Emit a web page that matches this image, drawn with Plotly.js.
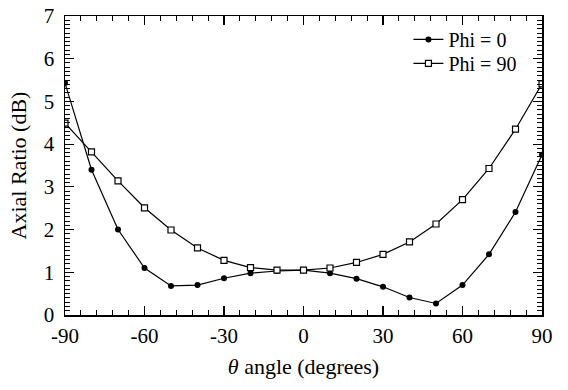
<!DOCTYPE html>
<html>
<head>
<meta charset="utf-8">
<script src="https://cdn.plot.ly/plotly-3.0.1.min.js"></script>
<style>html,body{margin:0;padding:0;background:#fff;}#chart{width:568px;height:390px;}</style>
</head>
<body>
<div id="chart"></div>
<script>
const theta = [-90,-80,-70,-60,-50,-40,-30,-20,-10,0,10,20,30,40,50,60,70,80,90];
const phi0 = [5.43,3.40,2.00,1.10,0.68,0.70,0.86,0.98,1.03,1.05,0.98,0.85,0.66,0.41,0.27,0.70,1.42,2.41,3.75];
const phi90 = [4.49,3.82,3.14,2.51,1.99,1.57,1.28,1.11,1.05,1.05,1.10,1.23,1.42,1.71,2.13,2.70,3.43,4.35,5.41];
const seriesNames = ['Phi = 0','Phi = 90'];
const xTicks = [-90,-60,-30,0,30,60,90];
const yTicks = [0,1,2,3,4,5,6,7];

const FAM = 'Liberation Serif, Times New Roman, Times, DejaVu Serif, serif';
const mkFont = (s) => ({family:FAM, size:s, color:'#000'});

const traces = [
  {x:theta, y:phi0, name:seriesNames[0], mode:'lines+markers', legend:'legend',
   line:{color:'#000', width:1.2},
   marker:{symbol:'circle', size:6, color:'#000'}},
  {x:theta, y:phi90, name:seriesNames[1], mode:'lines+markers', legend:'legend2',
   line:{color:'#000', width:1.2},
   marker:{symbol:'square', size:6, color:'#fff', line:{color:'#000', width:1.2}}}
];

const axisCommon = {
  showgrid:false, zeroline:false, showline:true, linecolor:'#000', linewidth:1.5,
  mirror:'allticks', ticks:'inside', ticklen:9, tickwidth:1.2, tickcolor:'#000',
  tickfont:mkFont(21)
};

const legendCommon = {xanchor:'left', yanchor:'top', bgcolor:'rgba(0,0,0,0)',
  font:mkFont(20), itemwidth:30};

const layout = {
  width:568, height:390,
  margin:{l:65, r:26, t:16, b:75},
  paper_bgcolor:'#fff', plot_bgcolor:'#fff',
  font:mkFont(22),
  showlegend:true,
  legend:Object.assign({}, legendCommon, {x:0.72, y:0.987}),
  legend2:Object.assign({}, legendCommon, {x:0.72, y:0.907}),
  xaxis:Object.assign({}, axisCommon, {
    range:[-90,90], tickvals:xTicks, ticktext:xTicks.map(String),
    ticklabelstandoff:1,
    minor:{dtick:6, tick0:-90, ticks:'inside', ticklen:5, tickwidth:1, tickcolor:'#000'},
    title:{text:'<i>θ</i> angle (degrees)', font:mkFont(22), standoff:12}
  }),
  yaxis:Object.assign({}, axisCommon, {
    range:[0,7], tickvals:yTicks, ticktext:yTicks.map(String),
    ticklabelstandoff:5,
    minor:{dtick:0.1, tick0:0, ticks:'inside', ticklen:5, tickwidth:1, tickcolor:'#000'},
    title:{text:'Axial Ratio (dB)', font:mkFont(22), standoff:11}
  })
};

Plotly.newPlot('chart', traces, layout, {displayModeBar:false, staticPlot:true});
</script>
</body>
</html>
